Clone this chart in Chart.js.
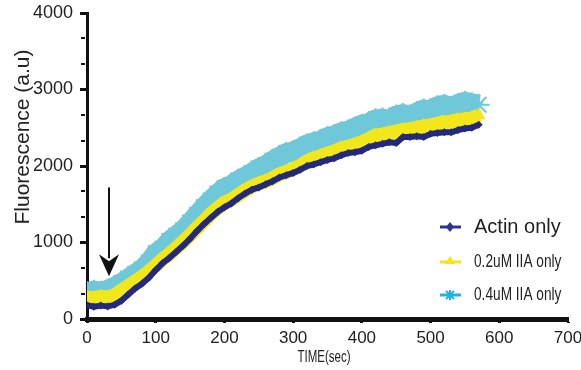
<!DOCTYPE html>
<html>
<head>
<meta charset="utf-8">
<script src="https://cdn.jsdelivr.net/npm/chart.js@4.4.0/dist/chart.umd.min.js"></script>
<style>
html, body { margin: 0; padding: 0; background: #fff; }
</style>
</head>
<body>
<canvas id="chart" width="581" height="370"></canvas>
<script>
// time points (sec)
const times = [0,10,20,30,40,50,60,70,80,90,100,110,120,130,140,150,160,170,180,190,
  200,210,220,230,240,250,260,270,280,290,300,310,320,330,340,350,360,370,380,390,
  400,410,420,430,440,450,460,470,480,490,500,510,520,530,540,550,560,570];

const actinOnly = [180,160,175,165,185,240,320,400,460,540,640,730,800,880,960,1050,1150,1240,1320,1400,
  1460,1510,1580,1640,1690,1720,1760,1800,1850,1880,1910,1950,2000,2020,2050,2080,2100,2140,2170,2180,
  2200,2250,2270,2290,2310,2300,2380,2380,2390,2380,2420,2430,2440,2440,2470,2490,2500,2540];

const iia02 = [280,270,290,280,310,370,430,490,550,620,700,780,850,930,1010,1100,1190,1280,1370,1450,
  1520,1560,1620,1680,1730,1770,1800,1840,1890,1920,1960,2000,2060,2100,2130,2160,2190,2230,2250,2280,
  2310,2350,2400,2410,2430,2450,2470,2480,2500,2520,2530,2550,2570,2580,2600,2610,2620,2660];

const iia04 = [350,370,355,380,420,470,530,590,650,740,860,920,1020,1090,1160,1260,1360,1460,1550,1640,
  1710,1750,1810,1860,1910,1970,2010,2070,2120,2170,2190,2230,2280,2310,2330,2380,2400,2440,2460,2500,
  2540,2560,2610,2620,2600,2660,2680,2650,2700,2740,2730,2780,2800,2760,2810,2840,2820,2800];

const seriesLabels = ["Actin only", "0.2uM IIA only", "0.4uM IIA only"];
const minorYTicks = [333,667,1333,1667,2333,2667,3333,3667];
const arrowTime = 32, arrowFrom = 1720, arrowTo = 560;

function pts(vals) {
  return vals.map((v, i) => ({ x: times[i], y: v }));
}

// condensed text: squeeze horizontally
function narrowText(ctx, text, x, y, sx) {
  ctx.save();
  ctx.translate(x, y);
  ctx.scale(sx, 1);
  ctx.fillText(text, 0, 0);
  ctx.restore();
}

const decor = {
  id: "decor",
  afterDatasetsDraw(chart) {
    const ctx = chart.ctx;
    const xs = chart.scales.x, ys = chart.scales.y;
    ctx.save();
    // arrow
    const ax = xs.getPixelForValue(arrowTime);
    const y1 = ys.getPixelForValue(arrowFrom), y2 = ys.getPixelForValue(arrowTo);
    ctx.strokeStyle = "#111";
    ctx.fillStyle = "#111";
    ctx.lineWidth = 2;
    ctx.beginPath();
    ctx.moveTo(ax, y1);
    ctx.lineTo(ax, y2 - 18);
    ctx.stroke();
    ctx.beginPath();
    ctx.moveTo(ax, y2);
    ctx.lineTo(ax - 10, y2 - 22);
    ctx.lineTo(ax, y2 - 15);
    ctx.lineTo(ax + 10, y2 - 22);
    ctx.closePath();
    ctx.fill();

    // minor y ticks
    ctx.lineWidth = 2;
    ctx.beginPath();
    minorYTicks.forEach(v => {
      const y = Math.round(ys.getPixelForValue(v));
      ctx.moveTo(xs.left - 6, y);
      ctx.lineTo(xs.left - 2, y);
    });
    ctx.stroke();

    // legend
    const rows = [
      { y: 227, color: "#2b3590", shape: "diamond", size: 20, sx: 1 },
      { y: 262, color: "#f3e51c", shape: "triangle", size: 18, sx: 0.76 },
      { y: 295, color: "#1fb2e6", shape: "star", size: 18, sx: 0.76 }
    ];
    rows.forEach((r, i) => {
      ctx.strokeStyle = r.color;
      ctx.fillStyle = r.color;
      ctx.lineWidth = 3;
      ctx.beginPath();
      ctx.moveTo(440, r.y);
      ctx.lineTo(461, r.y);
      ctx.stroke();
      const cx = 450, cy = r.y;
      ctx.beginPath();
      if (r.shape === "diamond") {
        ctx.moveTo(cx, cy - 5); ctx.lineTo(cx + 4, cy); ctx.lineTo(cx, cy + 5); ctx.lineTo(cx - 4, cy);
        ctx.closePath(); ctx.fill();
      } else if (r.shape === "triangle") {
        ctx.moveTo(cx, cy - 6); ctx.lineTo(cx + 5, cy + 2); ctx.lineTo(cx - 5, cy + 2);
        ctx.closePath(); ctx.fill();
      } else {
        ctx.lineWidth = 2;
        ctx.moveTo(cx - 4, cy - 4); ctx.lineTo(cx + 4, cy + 4);
        ctx.moveTo(cx + 4, cy - 4); ctx.lineTo(cx - 4, cy + 4);
        ctx.moveTo(cx, cy - 5); ctx.lineTo(cx, cy + 5);
        ctx.stroke();
      }
      ctx.fillStyle = "#222";
      ctx.font = r.size + 'px "Liberation Sans", Arial';
      ctx.textAlign = "left";
      ctx.textBaseline = "middle";
      narrowText(ctx, seriesLabels[i], 474, r.y, r.sx);
    });

    // axis titles
    ctx.fillStyle = "#222";
    ctx.font = '21px "Liberation Sans", Arial';
    ctx.textAlign = "center";
    ctx.textBaseline = "middle";
    ctx.save();
    ctx.translate(23, 137);
    ctx.rotate(-Math.PI / 2);
    ctx.fillText("Fluorescence (a.u)", 0, 0);
    ctx.restore();
    ctx.font = '16px "Liberation Sans", Arial';
    narrowText(ctx, "TIME(sec)", 324, 358, 0.72);
    ctx.restore();
  }
};

new Chart(document.getElementById("chart"), {
  type: "scatter",
  data: {
    datasets: [
      {
        label: seriesLabels[0],
        data: pts(actinOnly),
        showLine: true,
        borderColor: "#232a7e",
        backgroundColor: "#232a7e",
        borderWidth: 6,
        borderJoinStyle: "round",
        pointStyle: "rectRot",
        pointRadius: 4,
        pointBorderWidth: 0
      },
      {
        label: seriesLabels[1],
        data: pts(iia02),
        showLine: true,
        borderColor: "#f1e71b",
        backgroundColor: "#f1e71b",
        borderWidth: 14,
        borderJoinStyle: "round",
        pointStyle: "triangle",
        pointRadius: 8,
        pointBorderWidth: 0
      },
      {
        label: seriesLabels[2],
        data: pts(iia04),
        showLine: true,
        borderColor: "#6fc8d9",
        backgroundColor: "#6fc8d9",
        borderWidth: 20,
        borderJoinStyle: "round",
        pointStyle: "star",
        pointRadius: 11,
        pointBorderWidth: 2
      }
    ]
  },
  options: {
    responsive: false,
    animation: false,
    layout: { padding: { top: 13, right: 8, left: 0, bottom: 0 } },
    plugins: {
      legend: { display: false },
      tooltip: { enabled: false }
    },
    scales: {
      x: {
        type: "linear",
        min: 0,
        max: 700,
        afterFit(s) { s.height = 51; s.paddingLeft = 0; s.paddingRight = 0; },
        ticks: {
          stepSize: 100,
          color: "#222",
          padding: 5,
          maxRotation: 0,
          font: { family: '"Liberation Sans", Arial', size: 17 }
        },
        grid: { drawOnChartArea: false, drawTicks: true, tickLength: 4, tickWidth: 3, tickColor: "#111" },
        border: { display: true, color: "#111", width: 5 }
      },
      y: {
        min: 0,
        max: 4000,
        afterFit(s) { s.width = 87; s.paddingTop = 0; s.paddingBottom = 0; },
        ticks: {
          stepSize: 1000,
          color: "#222",
          padding: 7,
          callback: v => String(v),
          font: { family: '"Liberation Sans", Arial', size: 18 }
        },
        grid: { drawOnChartArea: false, drawTicks: true, tickLength: 7, tickWidth: 3, tickColor: "#111" },
        border: { display: true, color: "#111", width: 3 }
      }
    }
  },
  plugins: [decor]
});
</script>
</body>
</html>
